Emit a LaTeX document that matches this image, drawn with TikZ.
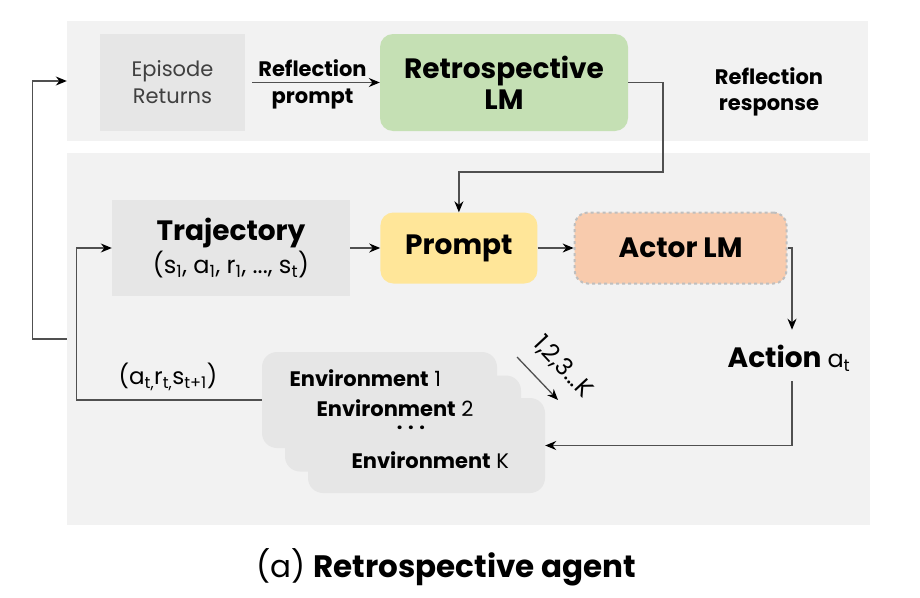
\documentclass[tikz,border=0pt]{standalone}
\usepackage{fontspec}
\setmainfont{Poppins}
\usetikzlibrary{positioning, arrows.meta, shapes}
\definecolor{panelgray}{HTML}{F2F2F2}
\definecolor{boxgray}{HTML}{E6E6E6}
\definecolor{retrogreen}{HTML}{C5E0B4}
\definecolor{promptyellow}{HTML}{FFE699}
\definecolor{actororange}{HTML}{F8CBAD}
\definecolor{linegray}{HTML}{505050}
\tikzstyle{panel} = [rectangle, fill=panelgray, inner sep=0pt]
\tikzstyle{flatbox} = [rectangle, fill=boxgray, align=center, inner sep=0pt]
\tikzstyle{module} = [rectangle, rounded corners=13pt, align=center, inner sep=0pt, font=\bfseries\fontsize{28}{31}\selectfont]
\tikzstyle{envbox} = [rectangle, rounded corners=15pt, fill=boxgray, minimum width=236pt, minimum height=96pt, inner sep=0pt]
\tikzstyle{tag} = [align=center, font=\bfseries\fontsize{21}{26}\selectfont]
\tikzstyle{envtext} = [anchor=west, font=\fontsize{21}{23}\selectfont]
\tikzstyle{arrow} = [line width=1.3pt, draw=linegray, -{Stealth[length=11pt, width=9pt, black]}]

\begin{document}
\begin{tikzpicture}[x=1pt, y=-1pt, node distance=30pt]
	\useasboundingbox (0,0) rectangle (920,597);
	% two panels
	\node (toppanel) [panel, minimum width=801pt, minimum height=120pt] at (467.5,81) {};
	\node (botpanel) [panel, minimum width=803pt, minimum height=372pt] at (468.5,339) {};
	
	% reflection part
	\node (episode) [flatbox, minimum width=145pt, minimum height=97pt, text=black!75, font=\fontsize{21}{27}\selectfont] at (172.5,82.5) {Episode\\Returns};
	\node (retro) [module, fill=retrogreen, minimum width=248pt, minimum height=97pt] at (504,82.5) {Retrospective\\LM};
	\node (response) [tag] at (769,92) {Reflection\\response};
	
	% actor part
	\node (traj) [flatbox, minimum width=238pt, minimum height=96pt] at (231,248) {{\bfseries\fontsize{28}{32}\selectfont Trajectory}\\[3pt]{\fontsize{24}{26}\selectfont (s\textsubscript{1}, a\textsubscript{1}, r\textsubscript{1}, ..., s\textsubscript{t})}};
	\node (prompt) [module, fill=promptyellow, minimum width=157pt, minimum height=71pt, right=30pt of traj] {Prompt};
	\node (actor) [module, fill=actororange, draw=black!25, dashed, line width=2pt, minimum width=212pt, minimum height=71pt, right=36pt of prompt] {Actor LM};
	\node (action) [font=\bfseries\fontsize{28}{31}\selectfont, inner sep=0pt] at (789,358) {Action {\mdseries\fontsize{24}{26}\selectfont a\textsubscript{t}}};
	
	% environments
	\node (env1) [envbox, minimum width=235pt] at (379.5,400) {};
	\node (env2) [envbox] at (403,423.5) {};
	\node (envK) [envbox, minimum width=237pt, minimum height=95pt] at (426.5,445.5) {};
	\node (envtxt1) [envtext] at (286,378) {\textbf{Environment} 1};
	\node (envtxt2) [envtext] at (313,408) {\textbf{Environment} 2};
	\node (envdots) [font=\bfseries\fontsize{20}{22}\selectfont] at (411,428) {. . .};
	\node (envtxtK) [envtext] at (348,460) {\textbf{Environment} K};
	
	\node (obs) [font=\fontsize{23}{25}\selectfont] at (168,377) {(a\textsubscript{t,}r\textsubscript{t,}s\textsubscript{t+1})};
	
	\coordinate (fanstart) at (517,357);
	\coordinate (fanend) at (558,400);
	\node (fanlabel) [rotate=-47, font=\fontsize{24}{26}\selectfont] at (563,367) {1,2,3...K};
	
	% caption
	\node (caption) [font=\fontsize{31}{35}\selectfont] at (446,567) {(a) \textbf{Retrospective agent}};
	
	% connectors
	\draw [arrow, shorten <=7pt] (episode) -- node[tag, above=2pt] {Reflection} node[tag, below=2pt] {prompt} (retro);
	\coordinate (turn) at (663,172);
	\draw [arrow] (retro.east) -| (turn) -| (prompt.north);
	\draw [arrow] (traj) -- (prompt);
	\draw [arrow] (prompt) -- (actor);
	\draw [arrow, shorten >=15pt] (actor.east) -| ([xshift=3pt]action.north);
	\draw [arrow, shorten <=10pt] ([xshift=3pt]action.south) |- (envK.east);
	\draw [arrow] (env1.west) -- ++(-185,0) |- (traj.west);
	\draw [arrow] (botpanel.west) -- ++(-34,0) |- (toppanel.west);
	\draw [arrow] (fanstart) -- (fanend);
	
\end{tikzpicture}
\end{document}
